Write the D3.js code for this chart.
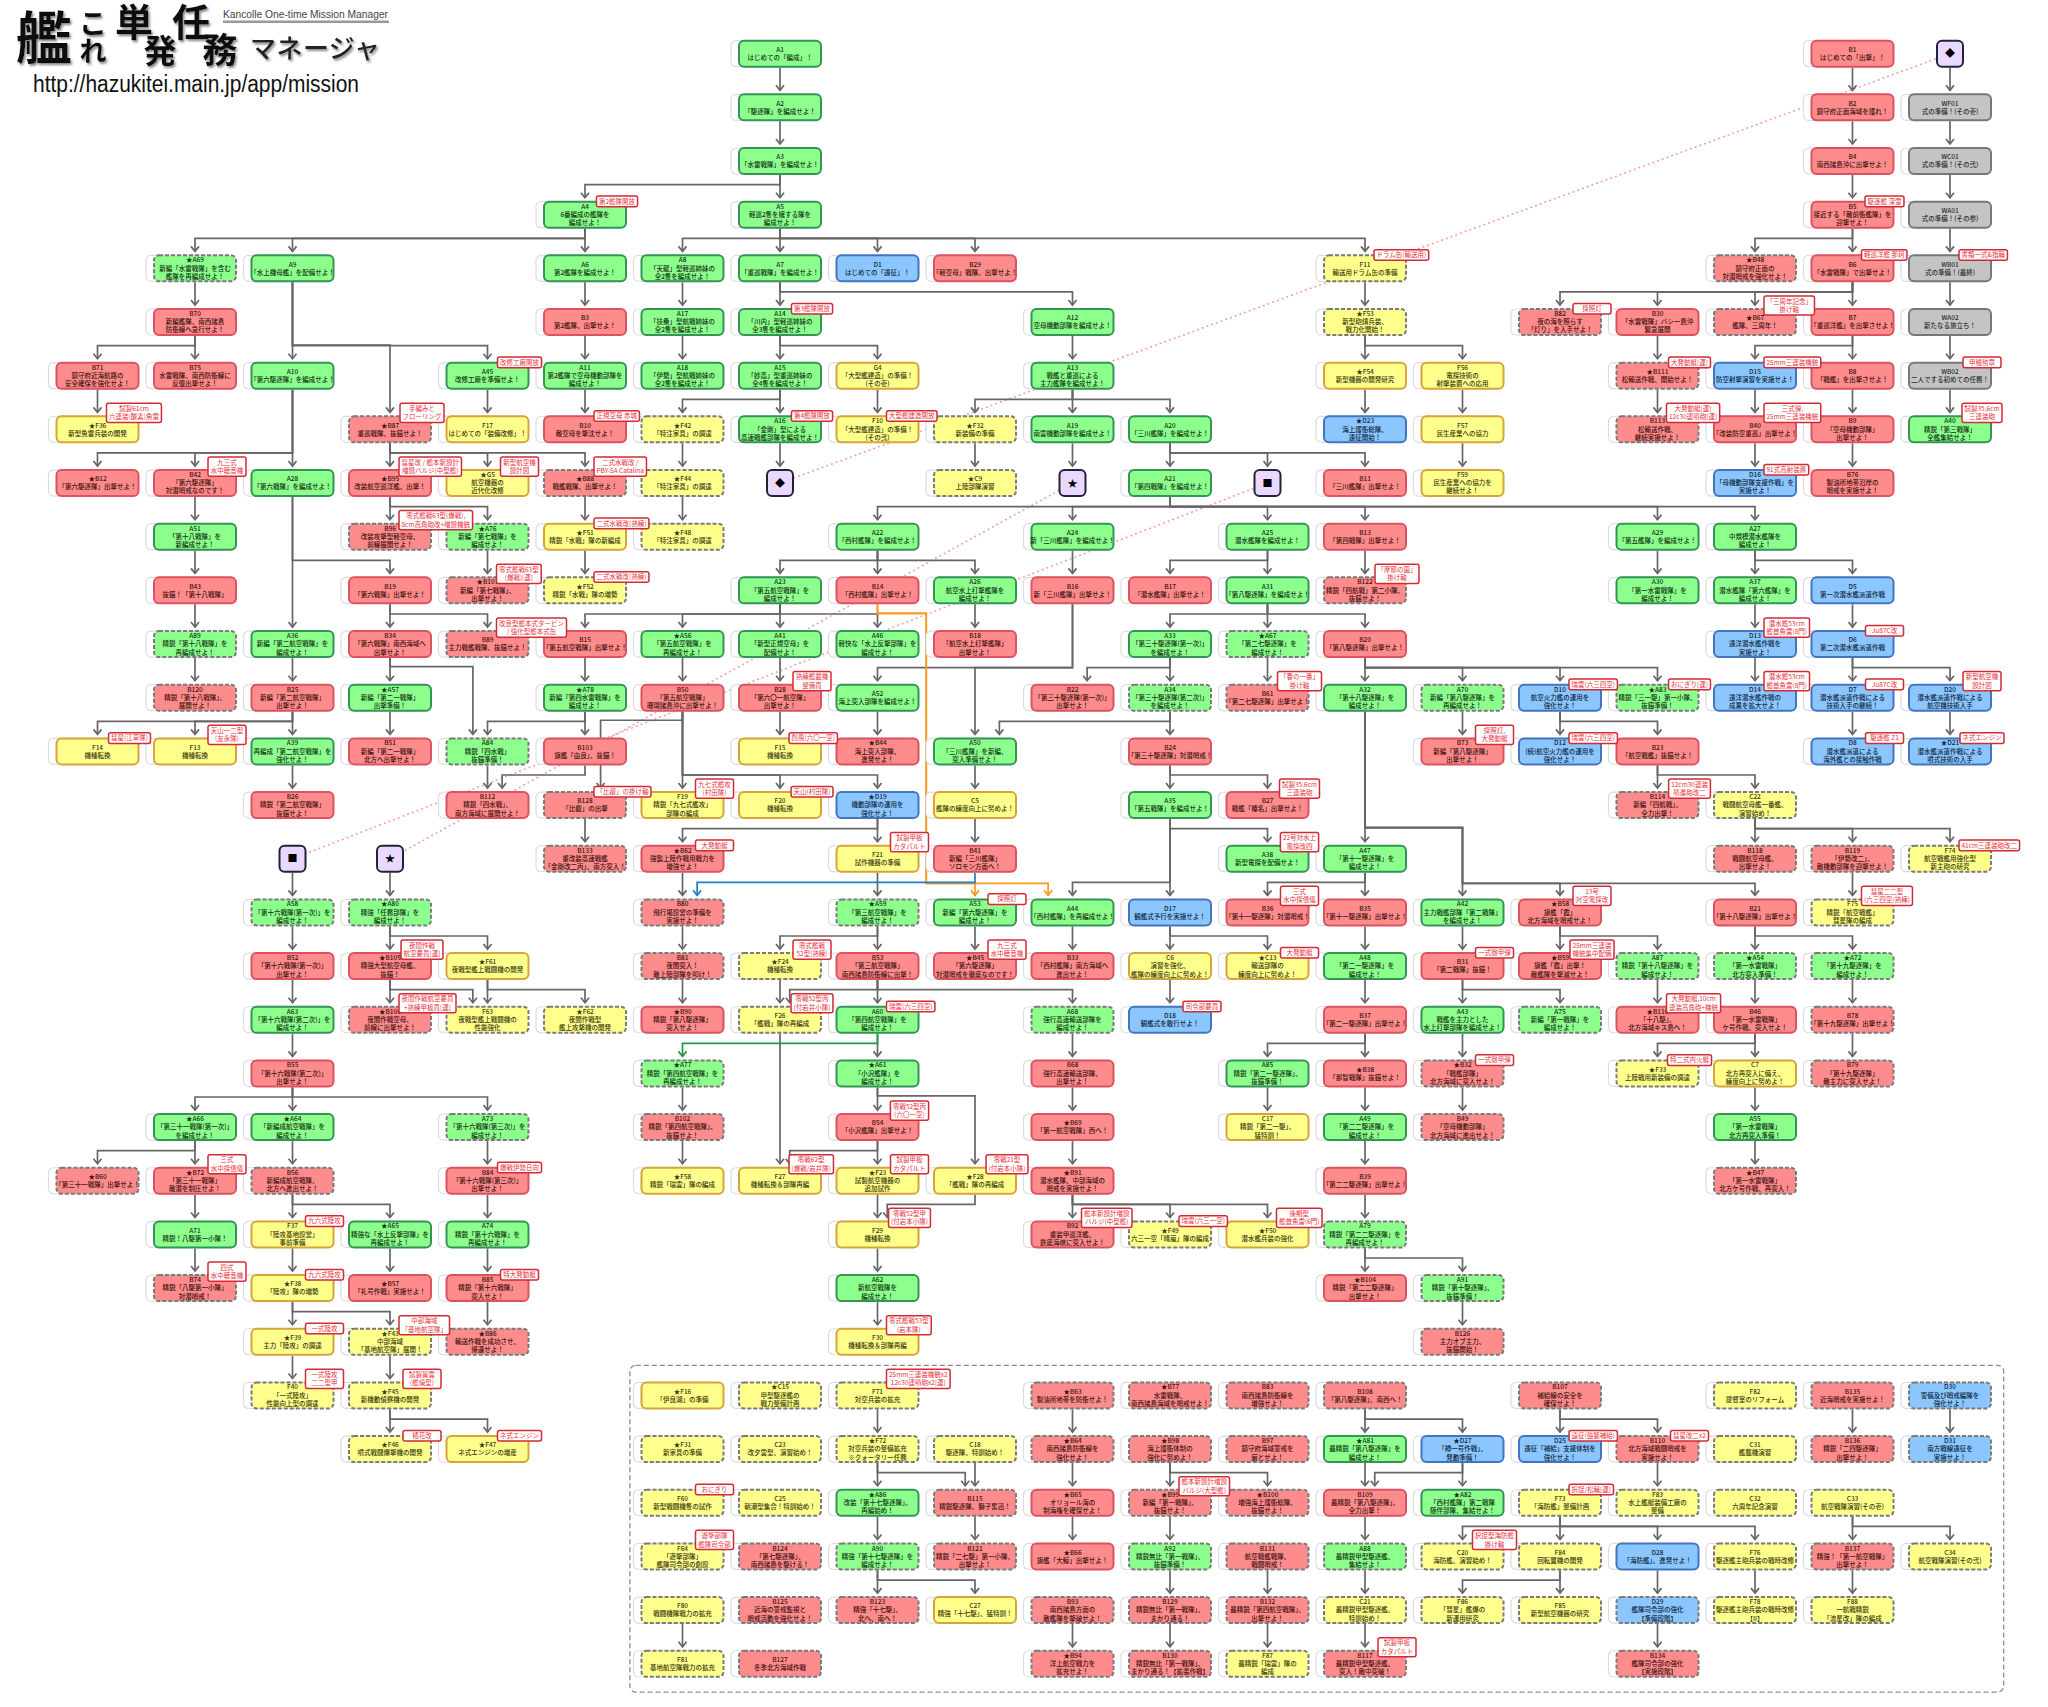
<!DOCTYPE html>
<html>
<head>
<meta charset="utf-8">
<title>Kancolle One-time Mission Manager</title>
<script src="https://cdn.jsdelivr.net/npm/d3@7"></script>
<style>
html, body { margin: 0; background: #fff; }
svg { display: block; }
text { font-family: "Noto Sans CJK JP", "Noto Sans", sans-serif; }
</style>
</head>
<body>
<script>
const width = 2048;
const height = 1707;

// quest titles, "|" breaks a line
const compositionQuests = [
    ["A1","はじめての「編成」！"],["A2","「駆逐隊」を編成せよ！"],["A3","「水雷戦隊」を編成せよ！"],["A4","6番編成の艦隊を|編成せよ！"],
    ["A5","軽巡2隻を擁する隊を|編成せよ！"],["A6","第2艦隊を編成せよ！"],["A7","「重巡戦隊」を編成せよ！"],["A8","「天龍」型軽巡姉妹の|全2隻を編成せよ！"],
    ["A9","「水上機母艦」を配備せよ！"],["A10","「第六駆逐隊」を編成せよ！"],["A11","第2艦隊で空母機動部隊を|編成せよ！"],["A12","空母機動部隊を編成せよ！"],
    ["A13","戦艦と重巡による|主力艦隊を編成せよ！"],["A14","「川内」型軽巡姉妹の|全3隻を編成せよ！"],["A15","「妙高」型重巡姉妹の|全4隻を編成せよ！"],["A16","「金剛」型による|高速戦艦部隊を編成せよ！"],
    ["A17","「扶桑」型航戦姉妹の|全2隻を編成せよ！"],["A18","「伊勢」型航戦姉妹の|全2隻を編成せよ！"],["A19","南雲機動部隊を編成せよ！"],["A20","「三川艦隊」を編成せよ！"],
    ["A21","「第四戦隊」を編成せよ！"],["A22","「西村艦隊」を編成せよ！"],["A23","「第五航空戦隊」を|編成せよ！"],["A24","新「三川艦隊」を編成せよ！"],
    ["A25","潜水艦隊を編成せよ！"],["A26","航空水上打撃艦隊を|編成せよ！"],["A27","中規模潜水艦隊を|編成せよ！"],["A28","「第六戦隊」を編成せよ！"],
    ["A29","「第五艦隊」を編成せよ！"],["A30","「第一水雷戦隊」を|編成せよ！"],["A31","「第八駆逐隊」を編成せよ！"],["A32","「第十八駆逐隊」を|編成せよ！"],
    ["A33","「第三十駆逐隊(第一次)」|を編成せよ！"],["A34","「第三十駆逐隊(第二次)」|を編成せよ！"],["A35","「第五戦隊」を編成せよ！"],["A36","新編「第二航空戦隊」を|編成せよ！"],
    ["A37","潜水艦隊「第六艦隊」を|編成せよ！"],["A38","新型電探を配備せよ！"],["A39","再編成「第二航空戦隊」を|強化せよ！"],["A40","精鋭「第三戦隊」|全艦集結せよ！"],
    ["A41","「新型正規空母」を|配備せよ！"],["A42","主力戦艦部隊「第二戦隊」|を編成せよ！"],["A43","戦艦を主力とした|水上打撃部隊を編成せよ！"],["A44","「西村艦隊」を再編成せよ！"],
    ["A45","改修工廠を準備せよ！"],["A46","軽快な「水上反撃部隊」を|編成せよ！"],["A47","「第十一駆逐隊」を|編成せよ！"],["A48","「第二一駆逐隊」を|編成せよ！"],
    ["A49","「第二二駆逐隊」を|編成せよ！"],["A50","「三川艦隊」を新編、|突入準備せよ！"],["A51","「第十八戦隊」を|新編成せよ！"],["A52","海上突入部隊を編成せよ！"],
    ["A53","新編「第六駆逐隊」を|編成せよ！"],["A54","「第一水雷戦隊」|北方突入準備！"],["A55","「第一水雷戦隊」|北方再突入準備！"],["A56","「第五航空戦隊」を|再編成せよ！"],
    ["A57","新編「第二一戦隊」|出撃準備！"],["A58","「第十六戦隊(第一次)」を|編成せよ！"],["A59","「第三航空戦隊」を|編成せよ！"],["A60","「第四航空戦隊」を|編成せよ！"],
    ["A61","「小沢艦隊」を|編成せよ！"],["A62","新航空戦隊を|編成せよ！"],["A63","「第十六戦隊(第二次)」を|編成せよ！"],["A64","「新編成航空戦隊」を|編成せよ！"],
    ["A65","精強な「水上反撃部隊」を|再編成せよ！"],["A66","「第三十一戦隊(第一次)」|を編成せよ！"],["A67","「第二七駆逐隊」を|編成せよ！"],["A68","強行高速輸送部隊を|編成せよ！"],
    ["A69","新編「水雷戦隊」を含む|艦隊を再編成せよ！"],["A70","新編「第八駆逐隊」を|再編成せよ！"],["A71","精鋭！八駆第一小隊！"],["A72","「第十九駆逐隊」を|編成せよ！"],
    ["A73","「第十六戦隊(第三次)」を|編成せよ！"],["A74","精鋭「第十六戦隊」を|再編成せよ！"],["A75","新編「第一戦隊」を|編成せよ！"],["A76","新編「第七戦隊」を|編成せよ！"],
    ["A77","精鋭「第四航空戦隊」を|再編成せよ！"],["A78","新編「第四水雷戦隊」を|編成せよ！"],["A79","精鋭「第二二駆逐隊」を|再編成せよ！"],["A80","精強「任務部隊」を|編成せよ！"],
    ["A81","最精鋭「第八駆逐隊」を|編成せよ！"],["A82","「西村艦隊」第二戦隊|随伴部隊、集結せよ！"],["A83","精鋭「三一駆」第一小隊、|抜錨準備！"],["A84","精鋭「四水戦」|抜錨準備！"],
    ["A85","精鋭「第二一駆逐隊」、|抜錨準備！"],["A86","改装「第十七駆逐隊」、|再編始め！"],["A87","精鋭「第十八駆逐隊」を|編成せよ！"],["A88","最精鋭甲型駆逐艦、|集結せよ！"],
    ["A89","精鋭「第十八戦隊」を|再編成せよ！"],["A90","精強「第十七駆逐隊」を|編成せよ！"],["A91","精鋭「第十駆逐隊」、|抜錨準備！"],["A92","精鋭無比「第一戦隊」、|抜錨準備！"]
];

const sortieQuests = [
    ["B1","はじめての「出撃」！"],["B2","鎮守府正面海域を護れ！"],["B3","第2艦隊、出撃せよ！"],["B4","南西諸島沖に出撃せよ！"],["B5","接近する「敵前衛艦隊」を|迎撃せよ！"],
    ["B6","「水雷戦隊」で出撃せよ！"],["B7","「重巡洋艦」を出撃させよ！"],["B8","「戦艦」を出撃させよ！"],["B9","「空母機動部隊」|出撃せよ！"],["B10","敵空母を撃沈せよ！"],
    ["B11","「三川艦隊」出撃せよ！"],["B12","「第六駆逐隊」出撃せよ！"],["B13","「第四戦隊」出撃せよ！"],["B14","「西村艦隊」出撃せよ！"],["B15","「第五航空戦隊」出撃せよ！"],
    ["B16","新「三川艦隊」出撃せよ！"],["B17","「潜水艦隊」出撃せよ！"],["B18","「航空水上打撃艦隊」|出撃せよ！"],["B19","「第六戦隊」出撃せよ！"],["B20","「第八駆逐隊」出撃せよ！"],
    ["B21","「第十八駆逐隊」出撃せよ！"],["B22","「第三十駆逐隊(第一次)」|出撃せよ！"],["B23","「航空戦艦」抜錨せよ！"],["B24","「第三十駆逐隊」対潜哨戒！"],["B25","新編「第二航空戦隊」|出撃せよ！"],
    ["B26","精鋭「第二航空戦隊」|抜錨せよ！"],["B27","戦艦「榛名」出撃せよ！"],["B28","「第六〇一航空隊」|出撃せよ！"],["B29","「軽空母」戦隊、出撃せよ！"],["B30","「水雷戦隊」バシー島沖|緊急展開"],
    ["B31","「第二戦隊」抜錨！"],["B32","「戦艦部隊」|北方海域に突入せよ！"],["B33","「西村艦隊」南方海域へ|進出せよ！"],["B34","「第六戦隊」南西海域へ|出撃せよ！"],["B35","「第十一駆逐隊」出撃せよ！"],
    ["B36","「第十一駆逐隊」対潜哨戒！"],["B37","「第二一駆逐隊」出撃せよ！"],["B38","「那智戦隊」抜錨せよ！"],["B39","「第二二駆逐隊」出撃せよ！"],["B40","「改装防空重巡」出撃せよ！"],
    ["B41","新編「三川艦隊」|ソロモン方面へ！"],["B42","「第六駆逐隊」|対潜哨戒なのです！"],["B43","抜錨！「第十八戦隊」"],["B44","海上突入部隊、|進発せよ！"],["B45","「第六駆逐隊」|対潜哨戒を徹底なのです！"],
    ["B46","「第一水雷戦隊」|ケ号作戦、突入せよ！"],["B47","「第一水雷戦隊」|北方ケ号作戦、再突入！"],["B48","鎮守府正面の|対潜哨戒を強化せよ！"],["B49","「空母機動部隊」|北方海域に進出せよ！"],["B50","「第五航空戦隊」|珊瑚諸島沖に出撃せよ！"],
    ["B51","新編「第二一戦隊」|北方へ出撃せよ！"],["B52","「第十六戦隊(第一次)」|出撃せよ！"],["B53","「第三航空戦隊」|南西諸島防衛線に出撃！"],["B54","「小沢艦隊」出撃せよ！"],["B55","「第十六戦隊(第二次)」|出撃せよ！"],
    ["B56","新編成航空戦隊、|北方へ進出せよ！"],["B57","「礼号作戦」実施せよ！"],["B58","旗艦「霞」|北方海域を哨戒せよ！"],["B59","旗艦「霞」出撃！|敵艦隊を撃滅せよ！"],["B60","「第三十一戦隊」出撃せよ！"],
    ["B61","「第二七駆逐隊」出撃せよ！"],["B62","強襲上陸作戦用戦力を|増強せよ！"],["B63","製油所地帯を防衛せよ！"],["B64","南西諸島防衛線を|強化せよ！"],["B65","オリョール海の|制海権を確保せよ！"],
    ["B66","旗艦「大鯨」出撃せよ！"],["B67","艦隊、三周年！"],["B68","強行高速輸送部隊、|出撃せよ！"],["B69","「第一航空戦隊」西へ！"],["B70","新編艦隊、南西諸島|防衛線へ急行せよ！"],
    ["B71","鎮守府近海航路の|安全確保を強化せよ！"],["B72","「第三十一戦隊」|敵潜を制圧せよ！"],["B73","新編「第八駆逐隊」|出撃せよ！"],["B74","精鋭「八駆第一小隊」|対潜哨戒！"],["B75","水雷戦隊、南西防衛線に|反復出撃せよ！"],
    ["B76","製油所地帯沿岸の|哨戒を実施せよ！"],["B77","水雷戦隊、|南西諸島海域を哨戒せよ！"],["B78","「第十九駆逐隊」出撃せよ！"],["B79","「第十九駆逐隊」|敵主力に突入せよ！"],["B80","飛行場設営の準備を|実施せよ！"],
    ["B81","夜間突入！|敵上陸部隊を叩け！"],["B82","夜の海を照らす|「灯り」を入手せよ！"],["B83","南西諸島防衛線を|増強せよ！"],["B84","「第十六戦隊(第三次)」|出撃せよ！"],["B85","精鋭「第十六戦隊」|突入せよ！"],
    ["B86","輸送作戦を成功させ、|帰還せよ！"],["B87","重巡戦隊、抜錨せよ！"],["B88","戦艦戦隊、出撃せよ！"],["B89","主力戦艦戦隊、抜錨せよ！"],["B90","精鋭「第八駆逐隊」|突入せよ！"],
    ["B91","潜水艦隊、中部海域の|哨戒を実施せよ！"],["B92","重装甲巡洋艦、|鉄底海峡に突入せよ！"],["B93","南西諸島方面の|敵艦隊を撃破せよ！"],["B94","洋上航空戦力を|拡充せよ！"],["B95","改装航空巡洋艦、出撃！"],
    ["B96","改装攻撃型軽空母、|前線展開せよ！"],["B97","鎮守府海域警戒を|厳とせよ！"],["B98","海上護衛体制の|強化に努めよ！"],["B99","新編「第一戦隊」、|抜錨せよ！"],["B100","増強海上護衛総隊、|抜錨せよ！"],
    ["B101","新編「第七戦隊」、|出撃せよ！"],["B102","精鋭「第四航空戦隊」、|抜錨せよ！"],["B103","旗艦「由良」、抜錨！"],["B104","精鋭「第二二駆逐隊」|出撃せよ！"],["B105","精強大型航空母艦、|抜錨！"],
    ["B106","夜間作戦空母、|前線に出撃せよ！"],["B107","補給線の安全を|確保せよ！"],["B108","「第八駆逐隊」、南西へ！"],["B109","最精鋭「第八駆逐隊」、|全力出撃！"],["B110","北方海域戦闘哨戒を|実施せよ！"],
    ["B111","松輸送作戦、開始せよ！"],["B112","精鋭「四水戦」、|南方海域に展開せよ！"],["B113","松輸送作戦、|継続実施せよ！"],["B114","新編「四航戦」、|全力出撃！"],["B115","精鋭駆逐隊、獅子奮迅！"],
    ["B116","「十八駆」、|北方海域キス島へ！"],["B117","最精鋭甲型駆逐艦、|突入！敵中突破！"],["B118","戦闘航空母艦、|出撃せよ！"],["B119","「伊勢改二」、|敵機動部隊を迎撃せよ！"],["B120","精鋭「第十八戦隊」、|展開せよ！"],
    ["B121","精鋭「二七駆」第一小隊、|出撃せよ！"],["B122","精鋭「四航戦」第二小隊、|抜錨せよ！"],["B123","精強「十七駆」、|北へ、南へ！"],["B124","「第七駆逐隊」、|南西諸島を駆ける！"],["B125","近海の警戒監視と|哨戒活動を強化せよ！"],
    ["B126","主力オブ主力、|抜錨開始！"],["B127","冬季北方海域作戦"],["B128","「比叡」の出撃"],["B129","精鋭無比「第一戦隊」、|まかり通る！"],["B130","精鋭無比「第一戦隊」、|まかり通る！【拡張作戦】"],
    ["B131","航空戦艦戦隊、|戦闘哨戒！"],["B132","最精鋭「第四航空戦隊」、|出撃せよ！"],["B133","重改装高速戦艦|「金剛改二丙」、南方突入！"],["B134","艦隊司令部の強化|【実施段階】"],["B135","近海哨戒を実施せよ！"],
    ["B136","精鋭「二四駆逐隊」|出撃せよ！"],["B137","精強！「第一航空戦隊」|出撃せよ！"]
];

const exerciseQuests = [
    ["C5","艦隊の練度向上に努めよ！"],["C6","演習を強化、|艦隊の練度向上に努めよ！"],["C7","北方再突入に備え、|練度向上に努めよ！"],["C9","上陸部隊演習"],["C13","輸送部隊の|練度向上に努めよ！"],
    ["C15","甲型駆逐艦の|戦力整備計画"],["C17","精鋭「第二一駆」、|猛特訓！"],["C18","駆逐隊、特訓始め！"],["C20","海防艦、演習始め！"],["C21","最精鋭甲型駆逐艦、|特訓始め！"],
    ["C22","戦闘航空母艦一番艦、|演習始め！"],["C23","改夕雲型、演習始め！"],["C25","朝潮型集合！特訓始め！"],["C27","精強「十七駆」、猛特訓！"],["C31","艦載機演習"],
    ["C32","六周年記念演習"],["C33","航空戦隊演習(その壱)"],["C34","航空戦隊演習(その弐)"]
];

const expeditionQuests = [
    ["D1","はじめての「遠征」！"],["D5","第一次潜水艦派遣作戦"],["D6","第二次潜水艦派遣作戦"],["D7","潜水艦派遣作戦による|技術入手の継続！"],["D8","潜水艦派遣による|海外艦との接触作戦"],
    ["D10","航空火力艦の運用を|強化せよ！"],["D12","(続)航空火力艦の運用を|強化せよ！"],["D13","遠洋潜水艦作戦を|実施せよ！"],["D14","遠洋潜水艦作戦の|成果を拡大せよ！"],["D15","防空射撃演習を実施せよ！"],
    ["D16","「母機動部隊支援作戦」を|実施せよ！"],["D17","観艦式予行を実施せよ！"],["D18","観艦式を敢行せよ！"],["D19","機動部隊の運用を|強化せよ！"],["D20","潜水艦派遣作戦による|航空機技術入手"],
    ["D21","潜水艦派遣作戦による|噴式技術の入手"],["D23","海上護衛総隊、|遠征開始！"],["D25","遠征「補給」支援体制を|強化せよ！"],["D27","「樽一号作戦」、|発動準備！"],["D28","「海防艦」、進発せよ！"],
    ["D29","艦隊司令部の強化|【準備段階】"],["D30","警備及び哨戒編隊を|強化せよ！"],["D31","南方戦線遠征を|実施せよ！"]
];

const arsenalQuests = [
    ["F10","「大型艦建造」の準備！|(その弐)"],["G4","「大型艦建造」の準備！|(その壱)"],["G5","航空機器の|近代化改修"],["F11","輸送用ドラム缶の準備"],["F13","機種転換"],["F14","機種転換"],["F15","機種転換"],
    ["F16","「伊良湖」の準備"],["F17","はじめての「装備改修」！"],["F19","精鋭「九七式艦攻」|部隊の編成"],["F20","機種転換"],["F21","試作機器の準備"],["F23","試製航空機器の|追加試作"],
    ["F24","機種転換"],["F26","「艦戦」隊の再編成"],["F27","機種転換＆部隊再編"],["F28","「艦戦」隊の再編成"],["F29","機種転換"],["F30","機種転換＆部隊再編"],["F31","新家具の準備"],
    ["F32","新装備の準備"],["F33","上陸戦用新装備の調達"],["F36","新型魚雷兵装の開発"],["F37","「陸攻基地設営」|事前準備"],["F38","「陸攻」隊の増勢"],["F39","主力「陸攻」の調達"],
    ["F40","「一式陸攻」|性能向上型の調達"],["F42","「特注家具」の調達"],["F43","中部海域|「基地航空隊」展開！"],["F44","「特注家具」の調達"],["F45","新機動偵察機の開発"],["F46","噴式戦闘爆撃機の開発"],
    ["F47","ネ式エンジンの増産"],["F48","「特注家具」の調達"],["F49","六三一空「晴嵐」隊の編成"],["F50","潜水艦兵装の強化"],["F51","精鋭「水戦」隊の新編成"],["F52","精鋭「水戦」隊の増勢"],
    ["F53","新型砲熕兵装、|戦力化開始！"],["F54","新型機器の開発研究"],["F56","電探技術の|射撃装置への応用"],["F57","民生産業への協力"],["F58","精鋭「瑞雲」隊の編成"],["F59","民生産業への協力を|継続せよ！"],
    ["F60","新型戦闘機隻の試作"],["F61","夜戦型艦上戦闘機の開発"],["F62","夜間作戦型|艦上攻撃機の開発"],["F63","夜戦型艦上戦闘機の|性能強化"],["F64","「遊撃部隊」|艦隊司令部の創設"],["F71","対空兵装の拡充"],
    ["F72","対空兵装の整備拡充|※クォータリー任務"],["F73","「海防艦」整備計画"],["F74","航空戦艦用強化型|新主砲の研究"],["F75","精鋭「航空戦艦」|彗星隊の編成"],["F76","駆逐艦主砲兵装の戦時改修"],["F78","駆逐艦主砲兵装の戦時改修|【II】"],
    ["F80","戦闘機隊戦力の拡充"],["F81","基地航空隊戦力の拡充"],["F82","提督室のリフォーム"],["F83","水上艦艇装備工廠の|整備"],["F84","回転翼機の開発"],["F85","新型航空機器の研究"],
    ["F86","「彗星」艦爆の|新運用研究"],["F87","最精鋭「瑞雲」隊の|編成"],["F88","一航戦精鋭|「流星改」隊の編成"]
];

const weddingQuests = [
    ["WF01","式の準備！(その壱)"],["WC01","式の準備！(その弐)"],["WA01","式の準備！(その参)"],["WB01","式の準備！(最終)"],["WA02","新たなる旅立ち！"],["WB02","二人でする初めての任務！"]
];

// which quest sits in which grid column, one string per grid row
const gridRows = [
    "8:A1 19:B1 20:◆a",
    "8:A2 19:B2 20:WF01",
    "8:A3 19:B4 20:WC01",
    "6:A4 8:A5 19:B5 20:WA01",
    "2:★A69 3:A9 6:A6 7:A8 8:A7 9:D1 10:B29 14:F11 18:★B48 19:B6 20:WB01",
    "2:B70 6:B3 7:A17 8:A14 11:A12 14:★F53 16:B82 17:B30 18:★B67 19:B7 20:WA02",
    "1:B71 2:B75 3:A10 5:A45 6:A11 7:A18 8:A15 9:G4 11:A13 14:★F54 15:F56 17:★B111 18:D15 19:B8 20:WB02",
    "1:★F36 4:★B87 5:F17 6:B10 7:★F42 8:A16 9:F10 10:★F32 11:A19 12:A20 14:★D23 15:F57 17:B113 18:B40 19:B9 20:A40",
    "1:★B12 2:B42 3:A28 4:★B95 5:★G5 6:★B88 7:★F44 8:◆b 10:★C9 11:★a 12:A21 13:■a 14:B11 15:F59 18:D16 19:B76",
    "2:A51 4:B96 5:★A76 6:★F51 7:★F48 9:A22 11:A24 13:A25 14:B13 17:A29 18:A27",
    "2:B43 4:B19 5:★B101 6:★F52 8:A23 9:B14 10:A26 11:B16 12:B17 13:A31 14:B122 17:A30 18:A37 19:D5",
    "2:A89 3:A36 4:B34 5:B89 6:B15 7:★A56 8:A41 9:A46 10:B18 12:A33 13:★A67 14:B20 18:D13 19:D6",
    "2:B120 3:B25 4:★A57 6:★A78 7:B50 8:B28 9:A52 11:B22 12:A34 13:B61 14:A32 15:A70 16:D10 17:★A83 18:D14 19:D7 20:D20",
    "1:F14 2:F13 3:A39 4:B51 5:A84 6:B103 8:F15 9:★B44 10:A50 12:B24 15:B73 16:D12 17:B23 19:D8 20:★D21",
    "3:B26 5:B112 6:B128 7:F19 8:F20 9:★D19 10:C5 12:A35 13:B27 17:B114 18:C22",
    "3:■b 4:★b 6:B133 7:★B62 9:F21 10:B41 13:A38 14:A47 18:B118 19:B119 20:F74",
    "3:A58 4:★A80 7:B80 9:★A59 10:A53 11:A44 12:D17 13:B36 14:B35 15:A42 16:★B58 18:B21 19:F75",
    "3:B52 4:★B105 5:★F61 7:B81 8:★F24 9:B53 10:★B45 11:B33 12:C6 13:★C13 14:A48 15:B31 16:★B59 17:A87 18:★A54 19:★A72",
    "3:A63 4:★B106 5:F63 6:★F62 7:★B90 8:F26 9:A60 11:A68 12:D18 14:B37 15:A43 16:A75 17:★B116 18:B46 19:B78",
    "3:B55 7:★A77 9:★A61 11:B68 13:A85 14:★B38 15:★B32 17:★F33 18:C7 19:B79",
    "2:★A66 3:★A64 5:A73 7:B102 9:B54 11:★B69 13:C17 14:A49 15:B49 18:A55",
    "1:★B60 2:★B72 3:B56 5:B84 7:★F58 8:F27 9:★F23 10:★F28 11:★B91 14:B39 18:★B47",
    "2:A71 3:F37 4:★A65 5:A74 9:F29 11:B92 12:★F49 13:★F50 14:A79",
    "2:B74 3:★F38 4:★B57 5:B85 9:A62 14:★B104 15:A91",
    "3:★F39 4:★F43 5:★B86 9:F30 15:B126",
    "3:F40 4:★F45 7:★F16 8:★C15 9:F71 11:★B63 12:★B77 13:B83 14:B108 16:B107 18:F82 19:B135 20:D30",
    "4:★F46 5:★F47 7:★F31 8:C23 9:★F72 10:C18 11:★B64 12:★B98 13:B97 14:★A81 15:★D27 16:D25 17:B110 18:C31 19:B136 20:D31",
    "7:F60 8:C25 9:★A86 10:B115 11:★B65 12:★B99 13:★B100 14:B109 15:★A82 16:F73 17:F83 18:C32 19:C33",
    "7:F64 8:B124 9:A90 10:B121 11:★B66 12:A92 13:B131 14:A88 15:C20 16:F84 17:D28 18:F76 19:B137 20:C34",
    "7:F80 8:B125 9:B123 10:C27 11:B93 12:B129 13:B132 14:C21 15:F86 16:F85 17:D29 18:F78 19:F88",
    "7:F81 8:B127 11:★B94 12:B130 13:F87 14:B117 17:B134"
];

// quests drawn with a dashed outline
const dashedQuests = ("A69 F11 B48 F53 B82 B67 B111 B87 F42 F32 B113 B88 F44 C9 B96 A76 F48 B101 F52 B122 A89 B89 A67 B120 A34 B61 A70 A83 A84 B128 B114 C22 " +
    "B133 B118 B119 F74 A58 A80 B80 A59 F75 B81 F24 A87 A54 A72 B106 F63 F62 F26 A68 A75 B78 A77 B32 F33 B79 A73 B102 B49 B60 B56 B47 F49 A79 B74 F43 B86 F40 F45 A91 B126 " +
    "C15 F71 B63 B77 B83 B108 B107 F82 B135 D30 F46 F31 C23 F72 C18 B64 B98 B97 B110 C31 B136 D31 F60 C25 B115 B99 B100 F73 F83 C32 C33 F64 B124 A90 B121 A92 B131 A88 C20 " +
    "F84 F76 B137 C34 F80 B125 B123 B93 B129 B132 C21 F86 F85 D29 F78 F88 F81 B127 B94 B130 F87 B117 B134").split(" ");

// prerequisite links: source > targets
const links = [
    "A1>A2","A2>A3","A3>A4 A5","A4>A69 A9 A6","A5>A8 A7 D1 B29 F11","A69>B70","B70>B71 B75","B71>F36","A9>A10 B87 A45","A10>B12 B42 A28","A45>F17",
    "A6>B3","B3>A11","A11>B10","B87>B95 G5 B88","B95>B96 A76","B88>F51","F51>F52","A76>B101","A8>A17","A17>A18","A15>F42 A16","F42>F44","F44>F48",
    "A7>A14 A12","A14>A15 G4","G4>F10","A16>◆b","A12>A13","A13>F32 A19 A20","F32>C9","A19>★a","A20>A21 ■a B11","F11>F53","F53>F54 F56","F54>D23","F56>F57","F57>F59",
    "A21>A22 A24 A25 B13 A29 A27","A22>A23 B14 A26","A24>B16","A25>B17 A31","B13>B122","A29>A30","A27>A37 D5","A23>B15 A56 A41 A46","A41>B28","B28>F15","A26>B18",
    "B16>A52 A50","A52>B44","A34>A50 B24","A50>C5","C5>B41","B42>A51","A51>B43","B43>A89","A89>B120","A28>B19 A36","A36>B25","B25>F14 F13 A39","A39>B26",
    "B19>B34 B89","B34>A57 A84","A57>B51","B15>A78","A78>A84 B103","A84>B112","B103>B112","A56>B50","B50>F19 F20 D19 B128","D19>B62 F21","B128>B133",
    "A31>A33 A67 B20","A33>B22 A34","A67>B61","B20>A32 A70 D10 A83","A70>B73","D10>D12 B23","B23>B114 C22","C22>B118 B119 F74","B119>F75",
    "B24>A35 B27","A35>A38 D17 A44","D17>C6 C13","C6>D18","A32>A47 A42","A47>B36 B35","B35>A48","A48>B37","B37>A85 B38","A85>C17","B38>A49","A49>B39","B39>A79","A79>B104 A91","A91>B126",
    "A42>B31","B31>A43 A75","A43>B32","B32>B49","B58>B59 A87","A87>B116","B21>A54 A72","A54>B46","A72>B78","B78>B79","B46>F33 C7","C7>A55","A55>B47",
    "■b>A58","A58>B52","B52>A63","A63>B55","B55>A66 A64 A73","A66>B60 B72","A64>B56","B56>F37 A65","B72>A71","A73>B84","B84>A74","A71>B74","F37>F38","A65>B57","A74>B85","F38>F39 F43","B85>B86","F39>F40","F43>F45","F45>F46 F47",
    "★b>A80","A80>B105 F61","B105>B106 F63","F61>F63 F62","B62>B80","B80>B81","B81>B90","A77>B102","B102>F58",
    "F21>A59","A59>F24 B53","F24>F26","B53>F26 A60 A68","A60>A61","A61>B54 F28","B54>F23 F27","F26>F27","F23>F29","F28>F29","F29>A62","A62>F30","A53>B45","A44>B33","A68>B68","B68>B69","B69>B91","B91>B92 F49 F50",
    "A37>D13","D13>D14","D5>D6","D6>D7 D20","D7>D8","D20>D21",
    "B1>B2","B2>B4","B4>B5","B5>B48 B6","B6>B82 B30 B67 B7","B7>D15 B8","B30>B111","B111>B113","D15>B40","B40>D16","B8>B9","B9>B76",
    "◆a>WF01","WF01>WC01","WC01>WA01","WA01>WB01","WB01>WA02","WA02>WB02","WB02>A40",
    "F71>F72","F72>A86 B115","C18>B115","A86>A90","B115>B121","A90>B123 C27","B63>B64","B64>B65","B65>B66","B98>B99 B100","B108>A81 D27","A81>B109","D27>B109 A82","B109>A88","A88>C21","C21>B117",
    "B99>A92","A92>B129","B129>B130","B131>B132","B132>F87","B93>B94","F80>F81","B107>D25 B110","B110>F83","F73>C20 F84 D28 F76","F84>F86 F85","D28>D29","D29>B134","F76>F78","B135>B136","D30>D31","C33>B137 C34","B137>F88"
];

// links that arrive beside the middle of the target, in columns
const arrivalShifts = [
    ["B34","A84",-0.15],["B103","B112",0.15],["B50","B128",0.16],["A33","B22",0.15],["A34","A50",0.25],["B105","F63",-0.15],
    ["B53","F26",0.1],["B54","F27",0.1],["F28","F29",0.1],["F72","B115",-0.1],["D27","B109",0.1],["B41","B80",0.15],["B14","A44",-0.25]
];

// links whose horizontal run is not just above the target, in rows
const busOverrides = [["B16","A50",12.44],["A61","F28",20.42],["A9","B87",6.43],["B34","A84",12.42],["B50","B128",13.42],["A32","A42",15.42]];

// links with bends of their own: row, column, row
const multiBendLinks = [
    ["B14","A53","orange",[11.43,9.5,16.46]],["B14","A44","orange",[11.43,9.5,16.46]],
    ["B41","B80","blue",null],["A60","A77","green",null],
    ["A32","B58","grey",[15.42,15,16.46]],["A32","B21","grey",[15.42,15,16.46]]
];

// long dotted jumps between the chart's matching symbols
const jumps = [["◆a","◆b"],["★a","★b"],["■a","■b"]];

// reward tags, "|" breaks a line
const rewards = [
    ["A4","第2艦隊開放"],["A14","第3艦隊開放"],["A16","第4艦隊開放"],["F10","大型艦建造開放"],["F11","ドラム缶(輸送用)"],["F36","試製61cm|六連装(酸素)魚雷"],["B87","手編みと|フローリング"],
    ["A45","改修工廠開放"],["B10","正規空母 赤城"],["B5","駆逐艦 深雪"],["B6","軽巡洋艦 那珂"],["WB01","書類一式&指輪"],["B82","探照灯"],["B67","「三周年記念」|掛け軸"],["B111","大発動艇[運]"],
    ["D15","25mm三連装機銃"],["WB02","甲種勲章"],["A40","試製35.6cm|三連装砲"],["B113","大発動艇[運]|12c30連噴砲[運]"],["B40","三式弾,|25mm三連装機銃"],["B42","九三式|水中聴音機"],
    ["B95","彗星改 / 艦本新設計|増設バルジ(中型艦)"],["G5","新型航空機|設計図"],["B88","二式水戦改 /|PBY-5A Catalina"],["B96","零式艦戦63型(爆戦),|8cm高角砲改+増設機銃"],["F51","二式水戦改(熟練)"],["F52","二式水戦改(熟練)"],
    ["B101","零式艦戦63型|(爆戦)[運]"],["B89","改良型艦本式タービン|/ 強化型艦本式缶"],["F14","彗星(江草隊)"],["F13","天山一二型|(友永隊)"],["B128","「比叡」の掛け軸"],["F19","九七式艦攻|(村田隊)"],["F20","天山(村田隊)"],
    ["F15","烈風(六〇一空)"],["B28","熟練艦載機|整備員"],["B62","大発動艇"],["F21","試製甲板|カタパルト"],["B122","「摩耶の園」|掛け軸"],["B61","「春の一番」|掛け軸"],["B27","試製35.6cm|三連装砲"],["A38","22号対水上|電探改四"],
    ["D16","91式高射装置"],["D13","潜水艦53cm|艦首魚雷(8門)"],["D14","潜水艦53cm|艦首魚雷(8門)"],["D6","Ju87C改"],["D7","Ju87C改"],["D20","新型航空機|設計図"],["D8","駆逐艦 Z1"],["D21","ネ式エンジン"],
    ["D10","瑞雲(六三四空)"],["D12","瑞雲(六三四空)"],["A83","おにぎり[運]"],["B73","探照灯,|大発動艇"],["B114","12cm30連装|噴進砲改二"],["F74","41cm三連装砲改二"],["F75","彗星二二型|(六三四空/熟練)"],["B58","13号|対空電探改"],
    ["B59","25mm三連装|機銃集中配備"],["B31","一式徹甲弾"],["B32","一式徹甲弾"],["B116","大発動艇,10cm|連装高角砲+機銃"],["F33","特二式内火艇"],["B105","夜間作戦|航空要員[運]"],["B106","夜間作戦航空要員|+熟練甲板員[運]"],
    ["B72","三式|水中探信儀"],["B84","爆戦伊勢日向"],["F37","九六式陸攻"],["B74","四式|水中聴音機"],["F38","九六式陸攻"],["B85","特大発動艇"],["F39","一式陸攻"],["F43","中部海域|「基地航空隊」"],["F40","一式陸攻|二二型甲"],
    ["F45","試製景雲|(艦偵型)"],["F46","橘花改"],["F47","ネ式エンジン"],["F24","零式艦戦|52型(熟練)"],["F26","零戦52型丙|(付岩井小隊)"],["A60","瑞雲(六三四空)"],["A53","探照灯"],["B45","九三式|水中聴音機"],["C13","大発動艇"],
    ["D18","司令部要員"],["B36","三式|水中探信儀"],["B54","零戦52型丙|(六〇一空)"],["F27","零戦62型|(爆戦/岩井隊)"],["F23","試製甲板|カタパルト"],["F28","零戦21型|(付岩本小隊)"],["B92","艦本新設計増設|バルジ(中型艦)"],["F49","瑞雲(六三一空)"],
    ["F50","後期型|艦首魚雷(6門)"],["F29","零戦52型甲|(付岩本小隊)"],["F30","零式艦戦53型|(岩本隊)"],["F71","25mm三連装機銃x2|12c30連噴砲x2[運]"],["F60","おにぎり"],["F64","遊撃部隊|艦隊司令部"],["B99","艦本新設計増設|バルジ(大型艦)"],
    ["D25","遠征(強襲補給)"],["B110","彗星改二x2"],["F73","択捉/松輪[運]"],["C20","択捉型海防艦|掛け軸"],["B117","試製甲板|カタパルト"]
];

const questTitles = new Map([...compositionQuests, ...sortieQuests, ...exerciseQuests, ...expeditionQuests, ...arsenalQuests, ...weddingQuests]);

const colStep = 97.5;
const rowStep = 53.67;
const boxW = 82;
const boxH = 26;

const x = d3.scaleLinear().domain([0, 20]).range([0, colStep * 20]);
const y = d3.scaleLinear().domain([0, 31]).range([0, rowStep * 31]);

const palette = {
    A: { fill: "#8cff8c", stroke: "#339455", text: "#123212" },
    B: { fill: "#ff8c8c", stroke: "#dc5260", text: "#3c1010" },
    C: { fill: "#ffff8c", stroke: "#d6a43a", text: "#38380c" },
    D: { fill: "#8cc6ff", stroke: "#4474c0", text: "#0e2640" },
    F: { fill: "#ffff8c", stroke: "#d6a43a", text: "#38380c" },
    G: { fill: "#ffff8c", stroke: "#d6a43a", text: "#38380c" },
    W: { fill: "#c4c4c4", stroke: "#777777", text: "#2c2c2c" }
};
const linkColors = { grey: "#666666", orange: "#f79a1e", blue: "#1f7fc9", green: "#1f9a44" };

// flatten the grid
const nodes = [];
gridRows.forEach((line, i) => {
    line.split(" ").forEach(token => {
        const [col, label] = token.split(":");
        const isSymbol = label.length === 2 && "◆★■".includes(label[0]);
        const id = isSymbol ? label : label.replace("★", "");
        nodes.push({ id, label, col: +col, row: i + 1, isSymbol });
    });
});
const nodeById = new Map(nodes.map(d => [d.id, d]));

const svg = d3.select("body").append("svg")
    .attr("width", width)
    .attr("height", height)
    .attr("viewBox", `0 0 ${width} ${height}`);

const defs = svg.append("defs");
Object.entries(linkColors).forEach(([name, color]) => {
    defs.append("marker")
        .attr("id", "arrow-" + name)
        .attr("viewBox", "-7 -6 9 12")
        .attr("refX", 0)
        .attr("refY", 0)
        .attr("markerUnits", "userSpaceOnUse")
        .attr("markerWidth", 9)
        .attr("markerHeight", 12)
        .attr("orient", "auto")
        .append("path")
        .attr("d", "M-5,-4 L0,0 L-5,4")
        .attr("fill", "none")
        .attr("stroke", color)
        .attr("stroke-width", 1.7);
});
defs.append("filter").attr("id", "logo-shadow")
    .append("feDropShadow")
    .attr("dx", 1.5).attr("dy", 2).attr("stdDeviation", 1.2).attr("flood-color", "#888");

// logo, one text element because the glyphs interlock on purpose
const logo = svg.append("g").attr("class", "logo");
const logoGlyphs = [
    ["艦", 44, 58, 56], ["こ", 93, 34, 28], ["れ", 93, 61, 27], ["単", 134, 36, 38], ["発", 160, 63, 33], ["任", 191, 36, 38], ["務", 220, 63, 35]
];
logo.append("text")
    .attr("text-anchor", "middle")
    .attr("font-weight", 700)
    .attr("fill", "#111")
    .attr("filter", "url(#logo-shadow)")
    .selectAll("tspan").data(logoGlyphs).join("tspan")
    .attr("x", d => d[1]).attr("y", d => d[2])
    .attr("font-size", d => d[3])
    .text(d => d[0]);
logo.append("text").attr("x", 250).attr("y", 58).attr("font-size", 26).attr("font-weight", 500)
    .attr("textLength", 130).attr("lengthAdjust", "spacing").attr("fill", "#222").attr("filter", "url(#logo-shadow)")
    .text("マネージャ");
logo.append("text").attr("x", 223).attr("y", 18).attr("font-size", 11.5)
    .style("font-family", '"Liberation Sans Narrow", "Liberation Sans", sans-serif')
    .attr("textLength", 165).attr("lengthAdjust", "spacingAndGlyphs").attr("fill", "#444")
    .text("Kancolle One-time Mission Manager");
logo.append("rect").attr("x", 223).attr("y", 20.5).attr("width", 166).attr("height", 2.5).attr("fill", "#999");
logo.append("text").attr("x", 33).attr("y", 92).attr("font-size", 23)
    .style("font-family", '"Liberation Sans Narrow", "Liberation Sans", sans-serif')
    .attr("textLength", 326).attr("lengthAdjust", "spacingAndGlyphs").attr("fill", "#111")
    .text("http://hazukitei.main.jp/app/mission");

// dashed frame round the standalone quests
svg.append("rect")
    .attr("x", x(6.46)).attr("y", y(25.44))
    .attr("width", x(20.55) - x(6.46)).attr("height", y(31.53) - y(25.44))
    .attr("rx", 6)
    .attr("fill", "none").attr("stroke", "#8a8a8a").attr("stroke-width", 1.3).attr("stroke-dasharray", "5,3");

// dotted jumps go under everything
svg.append("g").selectAll("line").data(jumps).join("line")
    .attr("x1", d => x(nodeById.get(d[0]).col)).attr("y1", d => y(nodeById.get(d[0]).row))
    .attr("x2", d => x(nodeById.get(d[1]).col)).attr("y2", d => y(nodeById.get(d[1]).row))
    .attr("stroke", "#f2a0a8").attr("stroke-width", 1.6).attr("stroke-dasharray", "2,3");

// links
const shiftOf = new Map(arrivalShifts.map(d => [d[0] + ">" + d[1], d[2]]));
const busOf = new Map(busOverrides.map(d => [d[0] + ">" + d[1], d[2]]));
const specialOf = new Map(multiBendLinks.map(d => [d[0] + ">" + d[1], d]));

const linkData = [];
links.forEach(s => {
    const [from, targets] = s.split(">");
    targets.split(" ").forEach(to => linkData.push({ from, to }));
});
// these are only listed in the special table
multiBendLinks.forEach(d => linkData.push({ from: d[0], to: d[1] }));

function linkPath(d) {
    const key = d.from + ">" + d.to;
    const a = nodeById.get(d.from);
    const b = nodeById.get(d.to);
    const sx = x(a.col);
    const sy = y(a.row) + boxH / 2 + 1;
    const tx = x(b.col + (shiftOf.get(key) || 0));
    const ty = y(b.row) - boxH / 2 - 4;
    const special = specialOf.get(key);
    if (special && special[3]) {
        const r = special[3];
        return `M${sx},${sy}V${y(r[0])}H${x(r[1])}V${y(r[2])}H${tx}V${ty}`;
    }
    if (sx === tx) return `M${sx},${sy}V${ty}`;
    const bus = busOf.has(key) ? busOf.get(key) : b.row - 0.56;
    return `M${sx},${sy}V${y(bus)}H${tx}V${ty}`;
}

function linkColor(d) {
    const special = specialOf.get(d.from + ">" + d.to);
    return special ? special[2] : "grey";
}

svg.append("g").attr("fill", "none").selectAll("path").data(linkData).join("path")
    .attr("d", linkPath)
    .attr("stroke", d => linkColors[linkColor(d)])
    .attr("stroke-width", 1.7)
    .attr("marker-end", d => `url(#arrow-${linkColor(d)})`);

// quest boxes
const dashedSet = new Set(dashedQuests);
const quests = nodes.filter(d => !d.isSymbol);
const symbols = nodes.filter(d => d.isSymbol);

const box = svg.append("g").selectAll("g").data(quests).join("g")
    .attr("transform", d => `translate(${x(d.col)},${y(d.row)})`);

box.append("rect")
    .attr("x", -boxW / 2 - 8).attr("y", -boxH / 2).attr("width", boxW).attr("height", boxH).attr("rx", 5)
    .attr("fill", "#fff").attr("stroke", "#dddddd").attr("stroke-width", 1.2);

box.append("rect")
    .attr("x", -boxW / 2).attr("y", -boxH / 2).attr("width", boxW).attr("height", boxH).attr("rx", 5)
    .attr("fill", d => palette[d.id[0]].fill)
    .attr("stroke", d => dashedSet.has(d.id) ? "#7a7a7a" : palette[d.id[0]].stroke)
    .attr("stroke-dasharray", d => dashedSet.has(d.id) ? "4,2" : null)
    .attr("stroke-width", 2);

box.each(function(d) {
    const lines = [d.label, ...questTitles.get(d.id).split("|")];
    const start = -(lines.length - 1) * 4.1;
    d3.select(this).selectAll("text").data(lines).join("text")
        .attr("y", (l, i) => start + i * 8.2)
        .attr("dy", "0.35em")
        .attr("text-anchor", "middle")
        .attr("font-size", 6.5)
        .attr("font-weight", 500)
        .attr("fill", palette[d.id[0]].text)
        .text(l => l);
});

// the little jump symbols
const symbol = svg.append("g").selectAll("g").data(symbols).join("g")
    .attr("transform", d => `translate(${x(d.col)},${y(d.row)})`);
symbol.append("rect")
    .attr("x", -13).attr("y", -13).attr("width", 26).attr("height", 26).attr("rx", 5)
    .attr("fill", "#e9d8ff").attr("stroke", "#22223a").attr("stroke-width", 2);
symbol.append("text")
    .attr("text-anchor", "middle").attr("dy", "0.36em").attr("font-size", 10).attr("fill", "#000")
    .text(d => d.id[0]);

// reward tags on top of everything
const tagLayer = svg.append("g");
rewards.forEach(([id, tagText]) => {
    const n = nodeById.get(id);
    const lines = tagText.split("|");
    const g = tagLayer.append("g");
    const rect = g.append("rect");
    const label = g.selectAll("text").data(lines).join("text")
        .attr("font-size", 6.5)
        .attr("fill", "#e8303c")
        .attr("text-anchor", "middle")
        .attr("dy", "0.35em")
        .attr("y", (l, i) => (i - (lines.length - 1) / 2) * 8.6)
        .text(l => l);
    let w = 0;
    label.each(function() { w = Math.max(w, this.getComputedTextLength()); });
    const tagW = Math.max(38, w + 5);
    const tagH = lines.length * 8.6 + 2;
    const left = tagW <= 44 ? 32 - tagW / 2 : 9;
    const dy = lines.length > 1 ? -16.5 : -13.3;
    g.attr("transform", `translate(${x(n.col) + left + tagW / 2},${y(n.row) + dy})`);
    rect.attr("x", -tagW / 2).attr("y", -tagH / 2).attr("width", tagW).attr("height", tagH).attr("rx", 2)
        .attr("fill", "#fff").attr("stroke", "#d42a35").attr("stroke-width", 1.5);
});
</script>
</body>
</html>
